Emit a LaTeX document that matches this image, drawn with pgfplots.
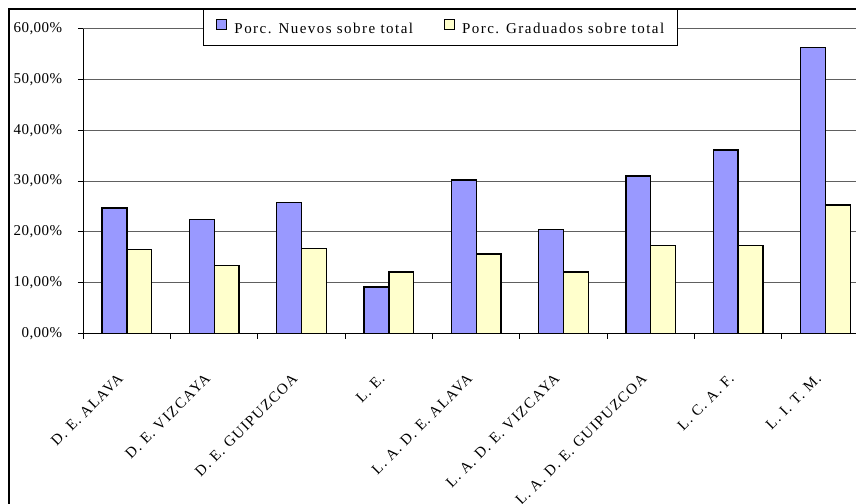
\documentclass[border=0pt]{standalone}
\usepackage{fontspec}
\setmainfont{Liberation Serif}[LetterSpace=9]
\newfontfamily\legfont{Liberation Serif}[LetterSpace=9.8]
\newfontfamily\tickfont{Liberation Serif}[LetterSpace=3]
\usepackage{pgfplots}
\pgfplotsset{compat=1.18}
\definecolor{barblue}{HTML}{9999FF}
\definecolor{baryellow}{HTML}{FFFFCC}
\definecolor{gridgray}{HTML}{606060}
\begin{document}
\fontsize{15bp}{17bp}\selectfont
\begin{tikzpicture}
\begin{axis}[
  at={(83.3bp,-333.3bp)}, anchor=south west,
  scale only axis, width=785.7bp, height=304.6bp,
  xmin=-0.5, xmax=8.5, ymin=0, ymax=60,
  axis x line*=bottom, axis y line*=left,
  axis line style={black, line width=1.3bp},
  ybar=0pt, bar width=24.8bp,
  xtick={-0.5,0.5,...,8.5}, xticklabels={},
  xticklabel style={xshift=-6.5bp, yshift=-43bp, rotate=45, anchor=east, inner sep=0pt},
  extra x ticks={0,1,2,3,4,5,6,7,8},
  extra x tick labels={D. E. ALAVA, D. E. VIZCAYA, D. E. GUIPUZCOA, L. E., L. A. D. E. ALAVA, L. A. D. E. VIZCAYA, L. A. D. E. GUIPUZCOA, L. C. A. F., L. I. T. M.},
  extra x tick style={major tick length=0pt, grid=none},
  ytick={0,10,...,60},
  yticklabels={{0,00\%},{10,00\%},{20,00\%},{30,00\%},{40,00\%},{50,00\%},{60,00\%}},
  yticklabel style={anchor=east, inner sep=0pt, xshift=-15.5bp, font=\tickfont},
  ymajorgrids, grid style={gridgray, line width=1bp},
  tick align=outside, major tick length=5.5bp,
  tick style={black, line width=1bp},
  legend columns=2,
  legend image code/.code={\draw[#1, line width=1bp] (0bp,-0.7bp) rectangle (10bp,9.3bp);},
  legend style={at={(axis description cs:0.1523,1.0647)}, anchor=north west,
    draw=black, line width=1bp, fill=white, inner xsep=13bp, inner ysep=10bp,
    nodes={inner sep=0pt}, column sep=7bp, font=\legfont,
    /tikz/every even column/.append style={column sep=31bp}},
]
\addplot[draw=black, line width=1.3bp, fill=barblue] coordinates {
  (0,24.7) (1,22.4) (2,25.8) (3,9.1) (4,30.2) (5,20.4) (6,31.0) (7,36.1) (8,56.3)};
\addplot[draw=black, line width=1.3bp, fill=baryellow] coordinates {
  (0,16.5) (1,13.3) (2,16.7) (3,12.1) (4,15.6) (5,12.1) (6,17.3) (7,17.3) (8,25.3)};
\legend{Porc. Nuevos sobre total, Porc. Graduados sobre total}
\end{axis}
\draw[line width=1.8bp] (9bp,-504bp) -- (9bp,-9bp) -- (860bp,-9bp);
\pgfresetboundingbox
\useasboundingbox (0,0) rectangle (856bp,-504bp);
\end{tikzpicture}
\end{document}
